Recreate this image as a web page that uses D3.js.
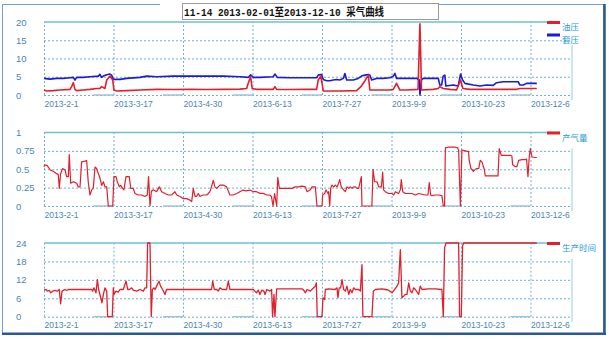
<!DOCTYPE html>
<html><head><meta charset="utf-8">
<script src="https://cdn.jsdelivr.net/npm/d3@7"></script>
<style>body{margin:0;background:#fff}svg{display:block}</style>
</head><body><svg id="c" width="609" height="339"></svg>
<script>
const titleText = "11-14 2013-02-01至2013-12-10 采气曲线";
const xTickDays = [0,44,88,132,176,220,264,308];
const xTickLabels = ["2013-2-1","2013-3-17","2013-4-30","2013-6-13","2013-7-27","2013-9-9","2013-10-23","2013-12-6"];
const pressureTicks = [0,5,10,15,20];
const gasTicks = [0,0.25,0.5,0.75,1];
const hourTicks = [0,6,12,18,24];

// 油压 (oil pressure) — day offset from 2013-02-01, value
const oilDays = [0,1.7,5.9,10.1,16.5,17.5,18.6,19.6,20.7,24.9,29.1,33.3,35.4,36.5,38.6,39.7,41.8,43.5,44.3,46,52.3,60.8,71.3,81.9,92.4,103,113.5,124,128.3,129.3,130.8,131.8,134.6,145.1,146.2,147.3,155.7,166.2,172.6,173.6,175.3,176.8,187.3,197.9,201,203.2,205.3,206.3,212.7,219,221.1,223.2,225.3,229.5,236.8,238,239,246.4,249.6,250.6,252.7,257,261.2,263.7,265.2,269.6,278,284.4,292.9,299.2,301.3,312];
const oilVals = [1.36,1.1,1.2,1.36,1.55,2.3,3.4,1.55,1.2,1.36,1.55,1.8,1.8,2.3,1.8,4.1,5.2,4.1,1.36,1.1,1.2,1.36,1.55,1.5,1.55,1.5,1.55,1.6,1.8,3.2,5.0,1.8,1.55,1.55,2.3,1.55,1.5,1.55,1.55,4.1,5.2,1.1,1.1,1.2,2.45,3.9,5.45,1.36,1.36,1.36,1.55,3.2,1.36,1.36,1.55,19.5,1.36,1.55,1.8,2.3,1.8,1.55,1.36,4.1,1.8,1.55,1.55,1.55,1.55,1.55,1.8,1.8];

// 套压 (casing pressure)
const casingDays = [0,3.8,8,12.2,16.5,18.6,19.6,20.7,24.9,29.1,34.4,35.4,36.5,37.6,39.7,41.8,42.8,43.9,48.1,52.3,60.8,65,71.3,81.9,92.4,103,113.5,124,129.3,130.8,132.5,136.7,145.1,146.2,147.7,155.7,166.2,172.6,173.6,175.7,176.8,178.9,181,183.1,185.2,187.3,189.5,190.5,191.6,195.8,198.9,201,203.2,205.3,206.3,207.4,210.5,214.8,219,221.1,222.2,223.2,229.5,235.9,237.6,238,239,240.1,246.4,249.6,250.6,251.7,252.7,253.8,254.4,259.1,262.2,263.7,265,266.5,271.7,276,280.2,284.4,286.5,290.7,297,300.2,301.3,303.4,305.5,312];
const casingVals = [4.55,4.36,4.55,4.55,4.73,4.82,4.1,4.82,4.82,5.0,5.18,5.64,4.82,5.18,5.55,5.73,5.45,4.27,4.27,4.55,4.82,5.18,5.0,5.18,5.18,5.18,5.18,5.0,4.82,5.55,4.82,4.82,5.0,5.73,4.82,4.73,4.73,4.73,5.45,5.64,4.27,3.9,3.9,4.1,4.27,4.1,4.55,5.9,4.1,4.1,4.55,5.18,5.45,5.64,5.45,4.1,4.55,4.55,4.73,5.18,5.9,4.55,4.55,4.55,4.1,0,4.1,4.55,4.55,4.55,2.73,2.73,5.18,5.45,2.45,2.73,2.45,5.73,4.1,3.18,2.73,2.45,2.73,2.64,3.36,3.64,3.64,3.64,2.73,2.73,3.18,3.18];

// 产气量 (gas output)
const gasDays = [0,0.5,2,4,6,8,9,9.7,10.5,11.8,13.3,14.3,15.4,16,16.9,18.6,20.7,21.7,22.8,23.8,25.9,27,28,29.1,30.2,31.2,32.3,33.3,34.4,35.4,36.5,37.6,38.6,39.7,40.7,43.5,44.3,45.6,46.4,47.7,48.5,49.8,50.6,51.9,54,54.9,56.5,57.6,59.7,61.8,63.9,65.4,66.2,67.1,68,69.2,71.3,73,74.5,76.6,78.7,80.8,82.9,84,86.1,88.2,90.3,92.4,93.5,94.5,95.6,96.6,97.7,98.7,100.8,103,104,105,106,107.2,108.2,109.3,111.4,113.5,115.6,117.7,119.8,122,124,126,128,130.4,132.5,134.6,136.7,138.8,141,143,144,145,146,147.3,148,149,150.4,152.5,154.6,157,159.1,161.2,163.3,165.5,166.5,168.6,169.7,171.8,172.8,176,176.4,177.7,178.5,179.8,180.2,180.9,181.5,182.3,183.4,184.4,185.5,186.5,187.2,188.2,189.7,190.8,191.8,192.9,193.9,195,196,197.1,198.2,199.2,200.9,201.3,207.6,208.3,209.3,210.8,211.9,213.6,214.4,215,216.1,218.2,220.3,221.4,222.4,224.5,225.6,226.2,227.1,228.7,230.9,233,235.1,237.2,239.3,241.4,243.1,243.9,244.8,245.6,247.7,249.8,251.9,252.8,253.6,254.1,256.2,258.3,260.4,261.9,262.5,263.6,264.6,266.7,268.8,269.2,270.3,271.9,273,274.1,275.2,276.2,277.3,278.7,279.4,281.5,283.6,285.7,287.4,288.2,289.5,292,295.2,296.2,296.7,298.4,299.4,300.5,302.6,304.7,305.5,306.4,307.2,307.9,308.9,310.6,312];
const gasVals = [0.53,0.56,0.55,0.49,0.47,0.44,0.43,0.24,0.44,0.51,0.49,0.40,0.40,0.70,0.31,0.33,0.31,0.26,0.26,0.60,0.61,0.62,0.33,0.15,0.22,0.24,0.53,0.51,0.44,0.38,0.28,0.33,0.26,0.26,0,0,0.40,0.40,0.33,0.26,0.28,0.24,0.22,0.40,0.40,0.24,0.24,0.17,0.15,0.15,0.13,0.15,0.40,0,0.20,0.22,0.195,0.26,0.195,0.17,0.15,0.15,0.195,0.15,0.13,0.10,0.10,0.08,0.06,0.24,0.13,0.13,0.17,0.13,0.15,0.15,0.17,0.195,0.26,0.35,0.26,0.24,0.285,0.285,0.26,0.15,0.15,0.17,0.195,0.217,0.205,0.217,0.195,0.195,0.172,0.172,0.15,0.15,0.127,0,0.17,0,0.39,0.24,0.24,0.24,0.24,0.24,0.26,0.26,0.27,0.26,0.195,0.22,0.26,0.26,0,0,0.15,0.17,0.22,0.17,0.195,0,0.24,0.285,0.26,0.285,0.26,0.31,0.36,0.26,0.22,0.195,0.26,0.24,0.26,0.24,0.26,0.26,0.24,0.24,0.40,0,0,0.50,0.33,0.33,0.26,0.26,0.46,0.22,0.195,0.17,0.17,0.15,0.195,0.17,0.22,0.36,0.195,0.17,0.17,0.17,0.15,0.17,0.16,0.15,0.15,0.32,0.15,0.14,0.15,0.15,0.14,0,0,0.79,0.80,0.80,0.80,0.79,0.76,0,0.76,0.75,0.74,0.62,0.51,0.47,0.50,0.51,0.51,0.62,0.60,0.50,0.41,0.41,0.41,0.41,0.41,0.78,0.69,0.69,0.69,0.68,0.56,0.535,0.535,0.62,0.63,0.63,0.64,0.40,0.67,0.78,0.67,0.66,0.66];

// 生产时间 (production hours)
const hourDays = [0,1.3,2.1,3.4,4.2,5.5,7,8.4,9.7,10.5,11.4,13.3,14.3,15.4,30.2,30.8,31.6,32.9,33.8,34.6,35.4,36.7,37.6,38.6,39.7,40.3,43.2,43.9,44.3,45.6,47,48.1,50.2,51.9,53,54,55.5,56.5,58.6,60.8,62.9,63.9,65,65.6,67.1,67.9,68.6,69.6,70.3,71.3,72.8,73.8,75.1,76.6,77.6,106.1,106.8,107.8,109.3,110.3,111.4,113.1,115.6,116.7,117.7,132.5,133.5,134.6,135.7,136.7,137.8,139.2,139.9,141,143,144.1,144.7,145.6,146.2,147.3,153.6,163.3,164.4,165.5,166.5,168.6,170.7,171.8,172.4,173,176,176.6,177.7,178.1,180.2,184.4,185.5,186.1,186.9,187.8,188.7,189.7,190.8,191.8,192.9,193.9,195,196,197.1,199.2,200.3,201.3,201.9,207.6,208.5,209.8,214,216.1,218.2,220.3,222,223.5,224.5,225.6,226.6,227.7,228.7,229.8,230.9,231.9,233,234,235.1,237.2,238.2,239.3,243.5,247.7,251.9,252.8,253.6,254.5,262.5,263.1,264.2,265,265.7,312];
const hourVals = [8.65,8.86,8.32,8.54,7.78,8.32,8.54,8.32,8.86,4.2,8.32,8.86,8.54,8.86,8.86,8.32,9.4,7.78,12.1,8.86,7.24,4.54,7.24,9.4,8.32,0,0,9.4,7.24,8.32,8.0,8.86,8.86,11.57,8.86,8.86,9.4,8.65,8.32,8.86,8.32,9.4,9.4,24,24,0,8.86,9.4,8.86,9.95,11.57,9.95,8.86,7.24,8.86,8.86,11.57,8.86,8.86,8.32,9.4,8.86,8.86,11.57,8.86,8.86,8.32,7.78,8.65,7.24,8.65,8.32,7.24,8.86,8.32,8.86,0,7.24,0,9.08,9.08,9.08,8.65,7.78,8.86,8.32,9.4,9.95,11.0,0,0,6.16,5.6,8.86,9.08,8.86,9.4,6.16,9.4,9.4,12.1,8.86,8.32,9.95,7.24,8.86,7.78,9.4,8.86,8.86,8.32,16.97,0,0,8.32,8.86,9.08,8.86,8.65,7.78,8.86,9.95,11.0,21.8,6.16,6.7,7.24,7.24,11.0,8.32,7.78,9.4,8.86,7.24,9.95,8.86,9.08,9.08,8.86,0,22.4,24,24,0,0,23.1,24,24];

const svg = d3.select("#c");
const t0 = Date.UTC(2013,1,1);
const day = d => new Date(t0 + d*864e5);
const x = d3.scaleUtc().domain([day(0), day(308)]).range([44, 530.5]);
const xRight = 572;
const RED = "#e0202c", BLUE = "#1a1ad8";
const GRID = "#4a9ccc", TEXTC = "#4a86b0", LEGC = "#2a9ad6";

// outer frame
svg.append("rect").attr("x",2.5).attr("y",4.5).attr("width",601).attr("height",329)
  .attr("fill","none").attr("stroke","#6f9fcf").attr("stroke-width",1);
svg.append("line").attr("x1",604.5).attr("x2",604.5).attr("y1",4).attr("y2",335)
  .attr("stroke","#2a5a94").attr("stroke-width",2.5);
svg.append("line").attr("x1",2).attr("x2",606).attr("y1",333.8).attr("y2",333.8)
  .attr("stroke","#2a5a94").attr("stroke-width",2.5);

// title
svg.append("rect").attr("x",160).attr("y",2).attr("width",24).attr("height",12).attr("fill","#fff");
svg.append("rect").attr("x",182.5).attr("y",3.5).attr("width",256).attr("height",16)
  .attr("fill","#fff").attr("stroke","#9a9a9a").attr("stroke-width",1);
svg.append("text").attr("x",184).attr("y",16).text(titleText)
  .attr("font-family","'Liberation Mono','Noto Sans CJK SC',monospace").attr("font-weight","bold")
  .attr("font-size",11).attr("fill","#111").attr("textLength",200).attr("lengthAdjust","spacingAndGlyphs");

const panels = [
  {top:22, h:73, max:20, ticks:pressureTicks,
   series:[{days:casingDays, vals:casingVals, color:BLUE, w:1.6},{days:oilDays, vals:oilVals, color:RED, w:1.6}],
   legend:[{name:"油压", color:RED},{name:"套压", color:BLUE}]},
  {top:132.5, h:73.5, max:1, ticks:gasTicks,
   series:[{days:gasDays, vals:gasVals, color:RED, w:1.2}],
   legend:[{name:"产气量", color:RED}]},
  {top:243, h:73.7, max:24, ticks:hourTicks,
   series:[{days:hourDays, vals:hourVals, color:RED, w:1.3}],
   legend:[{name:"生产时间", color:RED}]}
];

panels.forEach(p => {
  const bottom = p.top + p.h;
  const y = d3.scaleLinear().domain([0,p.max]).range([bottom, p.top]);
  const g = svg.append("g");
  const tickDates = xTickDays.map(day);

  const xa = g.append("g").attr("transform",`translate(0,${bottom})`)
    .call(d3.axisBottom(x).tickValues(tickDates).tickSize(-p.h).tickPadding(4)
      .tickFormat((d,i)=>xTickLabels[i]));
  xa.select(".domain").remove();
  xa.selectAll(".tick line").attr("stroke",GRID).attr("stroke-dasharray","2,2").attr("stroke-width",0.8);
  xa.selectAll(".tick text").attr("text-anchor","start").attr("fill",TEXTC)
    .attr("font-family","'Liberation Sans',Arial,sans-serif").attr("font-size",8.5).attr("dy","0.9em");

  const ya = g.append("g").attr("transform","translate(44,0)")
    .call(d3.axisLeft(y).tickValues(p.ticks).tickSize(-(xRight-44)).tickFormat(d=>String(d)));
  ya.select(".domain").remove();
  ya.selectAll(".tick line").attr("stroke",(d)=> d===p.max ? "none" : GRID)
    .attr("stroke-dasharray","2,2").attr("stroke-width",0.8);
  ya.selectAll(".tick text").attr("text-anchor","start").attr("x",16-44).attr("fill",TEXTC)
    .attr("font-family","'Liberation Sans',Arial,sans-serif").attr("font-size",9.5);

  g.selectAll(".seg").data(tickDates.slice(1)).join("line")
    .attr("x1",d=>x(d)-20).attr("x2",d=>x(d)).attr("y1",bottom).attr("y2",bottom)
    .attr("stroke","#9cc4dc").attr("stroke-width",1.5);

  g.append("line").attr("x1",44).attr("x2",xRight-12).attr("y1",p.top).attr("y2",p.top)
    .attr("stroke","#6cc0d2").attr("stroke-width",1.6);
  g.append("line").attr("x1",xRight).attr("x2",xRight).attr("y1",p.top+16+(p.legend.length-1)*7).attr("y2",bottom+5)
    .attr("stroke","#8fd0ea").attr("stroke-width",1);

  p.series.forEach(s => {
    const pts = s.days.map((d,i)=>[day(d), s.vals[i]]);
    g.append("path").datum(pts)
      .attr("d", d3.line().x(d=>x(d[0])).y(d=>y(d[1])))
      .attr("fill","none").attr("stroke",s.color).attr("stroke-width",s.w).attr("stroke-linejoin","round");
  });

  p.legend.forEach((l,i) => {
    const ly = p.top + 0.5 + i*12.5;
    g.append("line").attr("x1",547).attr("x2",560).attr("y1",ly).attr("y2",ly)
      .attr("stroke",l.color).attr("stroke-width",3);
    g.append("text").attr("x",562).attr("y",ly+7.5).text(l.name).attr("fill",LEGC)
      .attr("font-family","'Noto Sans CJK SC',sans-serif").attr("font-size",8.5);
  });
});
</script></body></html>
